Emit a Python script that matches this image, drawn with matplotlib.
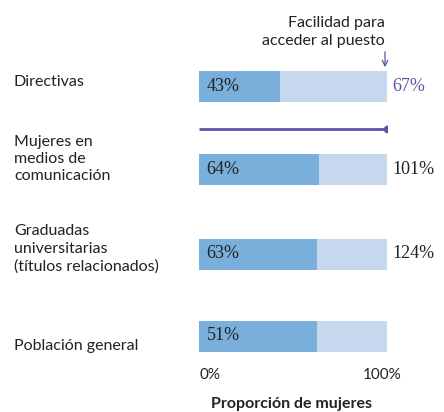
import matplotlib.pyplot as plt

categorias = ["Directivas", "Mujeres en\nmedios de\ncomunicación",
              "Graduadas\nuniversitarias\n(títulos relacionados)", "Población general"]
proporcion = [0.43, 0.64, 0.63, 0.63]          # longitud de la parte oscura
etiquetas = ["43%", "64%", "63%", "51%"]
facilidad = ["67%", "101%", "124%", ""]

oscuro = "#7aaedb"
claro = "#c5d8ee"
morado = "#5b55a8"
sans = ["Lato", "DejaVu Sans"]
serif = ["Liberation Serif", "DejaVu Serif"]

# y in pixel rows of the 412 px tall image
y_barra = [86, 169, 254, 336]
y_cat = [82, 159, 249, 346]
alto = 31

fig = plt.figure(figsize=(4.44, 4.12), dpi=100)
ax = fig.add_axes([199 / 444, 0, 188 / 444, 1])
ax.set_xlim(0, 1)
ax.set_ylim(412, 0)
ax.axis("off")

for i in range(len(categorias)):
    ax.barh(y_barra[i], 1, height=alto, color=claro)
    ax.barh(y_barra[i], proporcion[i], height=alto, color=oscuro)
    ax.text(0.04, y_barra[i], etiquetas[i], ha="left", va="center",
            fontsize=13, family=serif, color="#222222")
    col = morado if i == 0 else "#222222"
    ax.text(1.03, y_barra[i], facilidad[i], ha="left", va="center",
            fontsize=13, family=serif, color=col)
    ax.text(-185 / 188, y_cat[i], categorias[i], ha="left", va="center",
            fontsize=11.5, family=sans, color="#222222", linespacing=1.3)

# linea morada en la fila de medios
ax.plot([0, 1], [129, 129], color=morado, lw=2, solid_capstyle="butt")
ax.plot([1], [129], "o", color=morado, ms=4.5)

# anotacion
ax.text(1 - 2 / 188, 32, "Facilidad para\nacceder al puesto", ha="right", va="center",
        fontsize=11.5, family=sans, color="#222222", linespacing=1.3)
ax.annotate("", xy=(1 - 2 / 188, 70), xytext=(1 - 2 / 188, 49),
            arrowprops=dict(arrowstyle="->", color=morado, lw=0.9))

ax.text(0, 375, "0%", ha="left", va="center", fontsize=11, family=sans, color="#222222")
ax.text(1 + 15 / 188, 375, "100%", ha="right", va="center", fontsize=11, family=sans, color="#222222")
ax.text(0.49, 404, "Proporción de mujeres", ha="center", va="center", fontsize=11.5,
        family=sans, fontweight="bold", color="#222222")

fig.savefig("out.png", dpi=100)
